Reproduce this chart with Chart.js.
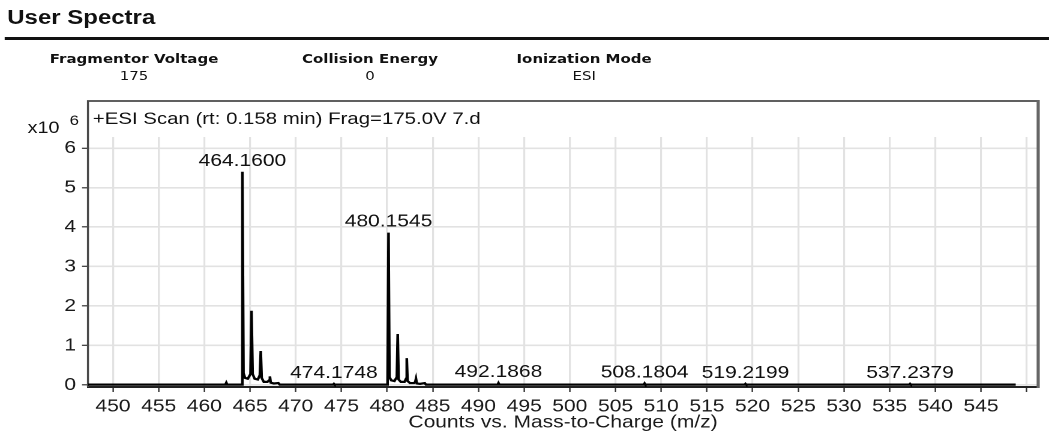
<!DOCTYPE html>
<html>
<head>
<meta charset="utf-8">
<title>User Spectra</title>
<script src="https://cdn.jsdelivr.net/npm/chart.js@4.4.1/dist/chart.umd.min.js"></script>
<style>
  html, body { margin: 0; padding: 0; background: #fff; overflow: hidden; }
  /* the report page is laid out at 874px and stretched across the window */
  #page { position: absolute; left: 0; top: 0; width: 874px; height: 438px; transform: scaleX(1.2002); transform-origin: 0 0; }
  .hdr { position: absolute; left: 6px; top: 6px; line-height: 20px; font: bold 20px "Liberation Sans", Arial, sans-serif; color: #111; white-space: nowrap; }
  .rule { position: absolute; left: 4px; right: 0; top: 37px; height: 3px; background: #111; }
  .param { position: absolute; top: 50px; width: 200px; margin-left: -100px; text-align: center; font-family: "DejaVu Sans", sans-serif; font-size: 12.5px; line-height: 17px; color: #111; }
  .param b { display: block; }
  #spectrum { position: absolute; left: 0; top: 0; }
</style>
</head>
<body>
<div id="page">
  <div class="hdr">User Spectra</div>
  <div class="rule"></div>
  <div class="param" style="left:111.7px"><b>Fragmentor Voltage</b>175</div>
  <div class="param" style="left:308.3px"><b>Collision Energy</b>0</div>
  <div class="param" style="left:486.7px"><b>Ionization Mode</b>ESI</div>
  <canvas id="spectrum" width="874" height="438"></canvas>
</div>
<script>
// profile spectrum, m/z against counts (x10^6)
const massValues = [
  447.26, 460.00, 462.30, 462.40, 462.50,
  464.04, 464.1600, 464.28, 464.45, 464.75,
  465.05, 465.16, 465.28, 465.50, 465.85,
  466.07, 466.17, 466.27, 466.50, 466.90,
  467.09, 467.17, 467.26, 467.60, 468.10, 468.25,
  474.10, 474.1748, 474.25,
  480.05, 480.1545, 480.26, 480.45, 480.80,
  481.06, 481.16, 481.26, 481.50, 481.90,
  482.07, 482.15, 482.24, 482.50, 482.95,
  483.08, 483.16, 483.25, 483.60, 484.12, 484.25,
  492.10, 492.1868, 492.28,
  508.10, 508.1804, 508.26,
  519.14, 519.2199, 519.30,
  537.16, 537.2379, 537.32,
  548.80
];
const countValues = [
  0.01, 0.01, 0.01, 0.06, 0.01,
  0.01, 5.40, 0.30, 0.18, 0.16,
  0.28, 1.88, 0.28, 0.16, 0.14,
  0.25, 0.86, 0.18, 0.08, 0.08,
  0.12, 0.22, 0.06, 0.04, 0.05, 0.01,
  0.01, 0.03, 0.01,
  0.01, 3.86, 0.20, 0.12, 0.10,
  0.20, 1.29, 0.14, 0.08, 0.08,
  0.16, 0.68, 0.10, 0.05, 0.05,
  0.08, 0.16, 0.04, 0.03, 0.05, 0.01,
  0.01, 0.05, 0.01,
  0.01, 0.04, 0.01,
  0.01, 0.03, 0.01,
  0.01, 0.03, 0.01,
  0.01
];
const labelledPeaks = [464.1600, 480.1545, 474.1748, 492.1868, 508.1804, 519.2199, 537.2379];

const xTicks = [450, 455, 460, 465, 470, 475, 480, 485, 490, 495, 500, 505, 510, 515, 520, 525, 530, 535, 540, 545, 550];
const xTickLabels = ['450', '455', '460', '465', '470', '475', '480', '485', '490', '495', '500', '505', '510', '515', '520', '525', '530', '535', '540', '545', ''];
const yTicks = [0, 1, 2, 3, 4, 5, 6];

const ARIAL = '"Liberation Sans", Arial, sans-serif';

// box around the plot, scan title and exponent
const plotFrame = {
  id: 'plotFrame',
  beforeDatasetsDraw(chart) {
    const ctx = chart.ctx;
    const a = chart.chartArea;
    const top = 101;
    ctx.save();
    ctx.strokeStyle = '#4a4a4a';
    ctx.lineWidth = 1.7;
    ctx.beginPath();
    ctx.moveTo(a.left, a.bottom);
    ctx.lineTo(a.left, top);
    ctx.lineTo(a.right, top);
    ctx.stroke();
    ctx.strokeStyle = '#666';
    ctx.lineWidth = 2.6;
    ctx.beginPath();
    ctx.moveTo(a.right, top - 1);
    ctx.lineTo(a.right, a.bottom + 1);
    ctx.stroke();

    ctx.fillStyle = '#111';
    ctx.textBaseline = 'alphabetic';
    ctx.font = '17px ' + ARIAL;
    ctx.fillText('+ESI Scan (rt: 0.158 min) Frag=175.0V 7.d', a.left + 4, 124);
    ctx.font = '16.5px ' + ARIAL;
    ctx.fillText('x10', 23, 133);
    ctx.font = '14px ' + ARIAL;
    ctx.fillText('6', 58, 125);
    ctx.restore();
  }
};

// m/z labels over the annotated peaks
const peakLabels = {
  id: 'peakLabels',
  afterDatasetsDraw(chart) {
    const ctx = chart.ctx;
    const x = chart.scales.x;
    const y = chart.scales.y;
    ctx.save();
    ctx.font = '17.5px ' + ARIAL;
    ctx.fillStyle = '#111';
    ctx.textAlign = 'center';
    ctx.textBaseline = 'alphabetic';
    labelledPeaks.forEach(function (m) {
      const i = massValues.indexOf(m);
      ctx.fillText(m.toFixed(4), x.getPixelForValue(m), y.getPixelForValue(countValues[i]) - 6);
    });
    ctx.restore();
  }
};

const ctx = document.getElementById('spectrum').getContext('2d');
const spectrumChart = new Chart(ctx, {
  type: 'line',
  data: {
    datasets: [{
      data: massValues.map(function (m, i) { return { x: m, y: countValues[i] }; }),
      borderColor: '#000',
      borderWidth: 2.2,
      pointRadius: 0,
      tension: 0,
      fill: false
    }]
  },
  options: {
    responsive: false,
    animation: false,
    devicePixelRatio: 2,
    layout: { padding: { top: 137, right: 9, left: 0, bottom: 0 } },
    plugins: {
      legend: { display: false },
      tooltip: { enabled: false }
    },
    scales: {
      x: {
        type: 'linear',
        min: 447.26,
        max: 551.26,
        afterFit: function (s) { s.height = 51; },
        afterBuildTicks: function (s) { s.ticks = xTicks.map(function (v) { return { value: v }; }); },
        ticks: {
          callback: function (v, i) { return xTickLabels[i]; },
          autoSkip: false,
          maxRotation: 0,
          padding: 4,
          color: '#1a1a1a',
          font: { family: ARIAL, size: 17.5 }
        },
        grid: { color: '#e2e2e2', lineWidth: 1.6, tickLength: 5, tickColor: '#333', tickWidth: 1.2 },
        border: { display: true, color: '#222', width: 2 },
        title: {
          display: true,
          text: 'Counts vs. Mass-to-Charge (m/z)',
          color: '#1a1a1a',
          font: { family: ARIAL, size: 17.5 },
          padding: { top: 0, bottom: 5 }
        }
      },
      y: {
        min: -0.05,
        max: 6.28,
        afterFit: function (s) { s.width = 73.3; },
        afterBuildTicks: function (s) { s.ticks = yTicks.map(function (v) { return { value: v }; }); },
        ticks: {
          padding: 5,
          color: '#1a1a1a',
          font: { family: ARIAL, size: 17.5 }
        },
        grid: { color: '#e2e2e2', lineWidth: 1.6, tickLength: 5, tickColor: '#333', tickWidth: 1.2 },
        border: { display: false }
      }
    }
  },
  plugins: [plotFrame, peakLabels]
});
</script>
</body>
</html>
